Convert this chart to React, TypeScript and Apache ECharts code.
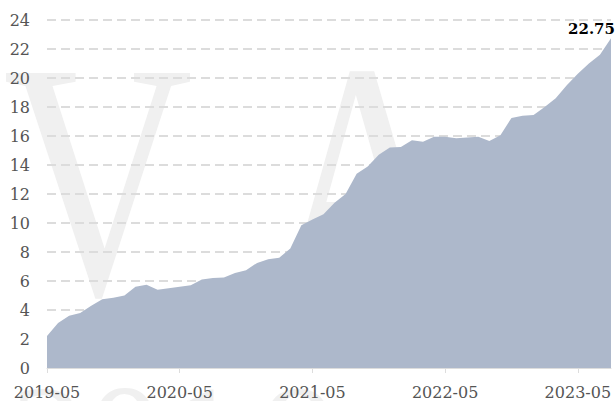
import React, { useEffect, useRef } from "react";
import * as echarts from "echarts";

const categories: string[] = [
  "2019-05", "2019-06", "2019-07", "2019-08", "2019-09", "2019-10", "2019-11", "2019-12",
  "2020-01", "2020-02", "2020-03", "2020-04", "2020-05", "2020-06", "2020-07", "2020-08",
  "2020-09", "2020-10", "2020-11", "2020-12", "2021-01", "2021-02", "2021-03", "2021-04",
  "2021-05", "2021-06", "2021-07", "2021-08", "2021-09", "2021-10", "2021-11", "2021-12",
  "2022-01", "2022-02", "2022-03", "2022-04", "2022-05", "2022-06", "2022-07", "2022-08",
  "2022-09", "2022-10", "2022-11", "2022-12", "2023-01", "2023-02", "2023-03", "2023-04",
  "2023-05", "2023-06", "2023-07", "2023-08",
];

const values: number[] = [
  2.2, 3.1, 3.6, 3.8, 4.3, 4.75, 4.85, 5.0,
  5.6, 5.75, 5.4, 5.5, 5.6, 5.7, 6.1, 6.2,
  6.25, 6.55, 6.75, 7.25, 7.5, 7.6, 8.25, 9.85,
  10.25, 10.6, 11.4, 12.0, 13.4, 13.9, 14.7, 15.2,
  15.25, 15.7, 15.6, 15.95, 15.95, 15.85, 15.9, 15.95,
  15.65, 16.05, 17.25, 17.4, 17.45, 18.0, 18.6, 19.5,
  20.3, 21.0, 21.6, 22.75,
];

const yTicks = { min: 0, max: 24, interval: 2 };
const watermarkLetters = ["V", "A"];
const watermarkDigits = ["2", "0", "1", "9"];

export default function App() {
  const ref = useRef<HTMLDivElement>(null);
  useEffect(() => {
    if (!ref.current) return;
    const chart = echarts.init(ref.current, undefined, { renderer: "svg" });
    const font = '"DejaVu Serif", serif';
    const wmColor = "#f0f0f0";
    const letterX = [98, 364];
    const digitX = [48, 125, 205, 300];
    const graphic: any[] = [
      ...watermarkLetters.map((t, i) => ({
        type: "text",
        x: letterX[i],
        y: 180,
        scaleX: 0.78,
        z: -10,
        silent: true,
        style: {
          text: t,
          font: '337px "Liberation Serif", serif',
          fill: wmColor,
          textAlign: "center",
          textVerticalAlign: "middle",
        },
      })),
      ...watermarkDigits.map((t, i) => ({
        type: "text",
        x: digitX[i],
        y: 438,
        z: -10,
        silent: true,
        style: {
          text: t,
          font: '150px "Liberation Serif", serif',
          fill: wmColor,
          textAlign: "center",
          textVerticalAlign: "middle",
        },
      })),
    ];
    const lastIdx = values.length - 1;
    chart.setOption({
      animation: false,
      backgroundColor: "#ffffff",
      graphic,
      grid: { left: 47, right: 4, top: 20, bottom: 33, containLabel: false },
      xAxis: {
        type: "category",
        data: categories,
        boundaryGap: false,
        axisLine: { lineStyle: { color: "#dddddd", width: 1 } },
        axisTick: { show: true, interval: 11, length: 5, lineStyle: { color: "#dddddd" } },
        axisLabel: {
          interval: 11,
          margin: 16,
          color: "#555555",
          fontFamily: font,
          fontSize: 16,
        },
        splitLine: { show: false },
      },
      yAxis: {
        type: "value",
        min: yTicks.min,
        max: yTicks.max,
        interval: yTicks.interval,
        axisLine: { show: false },
        axisTick: { show: false },
        axisLabel: {
          margin: 17,
          color: "#555555",
          fontFamily: font,
          fontSize: 16,
        },
        splitLine: { lineStyle: { color: "#dcdcdc", type: [9, 5], width: 2 } },
      },
      series: [
        {
          type: "line",
          data: values,
          symbol: "none",
          lineStyle: { width: 0, color: "#adb8cb" },
          itemStyle: { color: "#adb8cb" },
          areaStyle: { color: "#adb8cb", opacity: 1 },
          markPoint: {
            symbol: "circle",
            symbolSize: 0,
            silent: true,
            data: [
              {
                coord: [categories[lastIdx], values[lastIdx]],
                value: values[lastIdx],
              },
            ],
            label: {
              show: true,
              position: "top",
              align: "right",
              distance: 2,
              offset: [4, 0],
              color: "#000000",
              fontWeight: "bold",
              fontFamily: font,
              fontSize: 15,
              formatter: "{c}",
            },
          },
        },
      ],
    });
    return () => chart.dispose();
  }, []);
  return (
    <div
      ref={ref}
      style={{ position: "fixed", left: 0, top: 0, width: 615, height: 401 }}
    />
  );
}
